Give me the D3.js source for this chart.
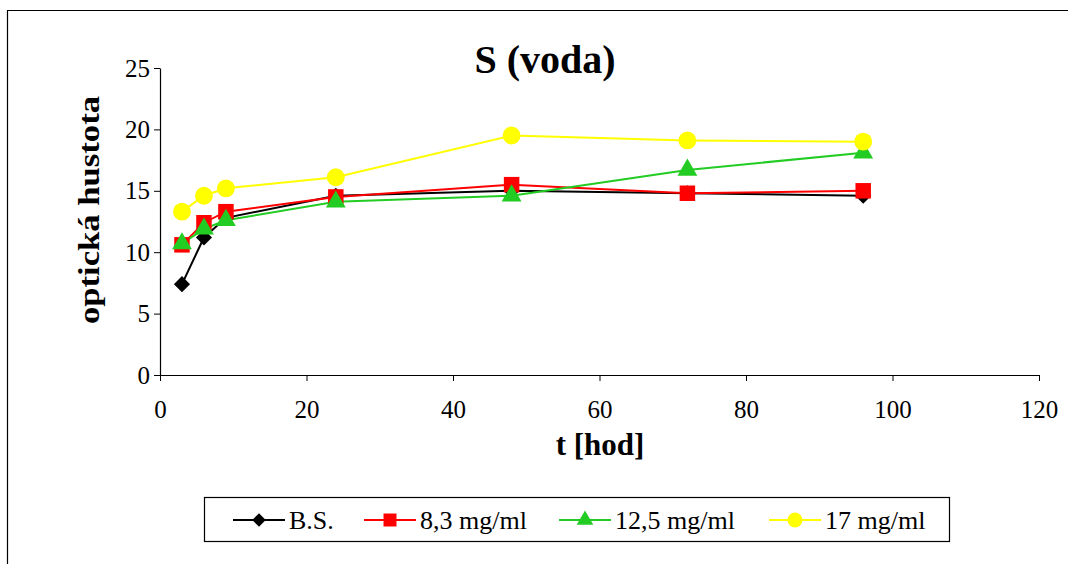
<!DOCTYPE html>
<html>
<head>
<meta charset="utf-8">
<script src="https://cdn.jsdelivr.net/npm/d3@7"></script>
<style>
  body { margin: 0; background: #fff; }
  svg text { font-family: "Liberation Serif", "Times New Roman", serif !important; fill: #000; }
</style>
</head>
<body>
<svg id="chart" width="1068" height="564"></svg>
<script>
const hours = [3, 6, 9, 24, 48, 72, 96]
const bs = [7.4, 11.2, 12.8, 14.6, 15.0, 14.8, 14.6]
const c83 = [10.6, 12.4, 13.3, 14.5, 15.5, 14.8, 15.0]
const c125 = [10.7, 11.9, 12.6, 14.1, 14.6, 16.7, 18.1]
const c17 = [13.3, 14.6, 15.2, 16.1, 19.5, 19.1, 19.0]
const seriesNames = ["B.S.", "8,3 mg/ml", "12,5 mg/ml", "17 mg/ml"]
const xTicks = [0, 20, 40, 60, 80, 100, 120]
const yTicks = [0, 5, 10, 15, 20, 25]

const series = [
    { name: seriesNames[0], values: bs, colour: "#000000", symbol: d3.symbolSquare, size: 130, rot: 45 },
    { name: seriesNames[1], values: c83, colour: "#ff0000", symbol: d3.symbolSquare, size: 240, rot: 0 },
    { name: seriesNames[2], values: c125, colour: "#22cc22", symbol: d3.symbolTriangle, size: 170, rot: 0 },
    { name: seriesNames[3], values: c17, colour: "#ffff00", symbol: d3.symbolCircle, size: 250, rot: 0 }
]

const svg = d3.select("#chart")

// outer frame (top + left only visible)
svg.append("path")
    .attr("d", "M7.5,564 L7.5,10.5 L1068,10.5")
    .attr("fill", "none").attr("stroke", "#000").attr("stroke-width", 1.2)

const x = d3.scaleLinear().domain([0, 120]).range([160, 1039])
const y = d3.scaleLinear().domain([0, 25]).range([375, 68])

// title
svg.append("text")
    .attr("x", 545).attr("y", 73)
    .attr("text-anchor", "middle")
    .attr("font-size", 40).attr("font-weight", "bold")
    .text("S (voda)")

// axes
const xAxis = svg.append("g")
    .attr("transform", `translate(0,${y(0)})`)
    .call(d3.axisBottom(x).tickValues(xTicks).tickSize(6).tickSizeOuter(0))
xAxis.select(".domain").attr("stroke-width", 1.2)
xAxis.selectAll("text").attr("font-size", 25).attr("y", 43).attr("dy", 0)

const yAxis = svg.append("g")
    .attr("transform", `translate(${x(0)},0)`)
    .call(d3.axisLeft(y).tickValues(yTicks).tickSize(6).tickSizeOuter(0))
yAxis.select(".domain").attr("stroke-width", 1.2)
yAxis.selectAll("text").attr("font-size", 25).attr("x", -10)

// axis titles
svg.append("text")
    .attr("x", 600).attr("y", 455)
    .attr("text-anchor", "middle")
    .attr("font-size", 31).attr("font-weight", "bold")
    .text("t [hod]")

svg.append("text")
    .attr("transform", "translate(99,210) rotate(-90)")
    .attr("text-anchor", "middle")
    .attr("font-size", 29).attr("font-weight", "bold")
    .attr("textLength", 228).attr("lengthAdjust", "spacingAndGlyphs")
    .text("optická hustota")

// lines and markers
const line = d3.line()
    .x((d, i) => x(hours[i]))
    .y(d => y(d))

series.forEach(s => {
    svg.append("path")
        .datum(s.values)
        .attr("d", line)
        .attr("fill", "none")
        .attr("stroke", s.colour)
        .attr("stroke-width", 2)
})

series.forEach(s => {
    svg.append("g").selectAll("path")
        .data(s.values).enter().append("path")
        .attr("transform", (d, i) => `translate(${x(hours[i])},${y(d)}) rotate(${s.rot})`)
        .attr("d", d3.symbol().type(s.symbol).size(s.size))
        .attr("fill", s.colour)
})

// legend
const legend = svg.append("g")
legend.append("rect")
    .attr("x", 204.5).attr("y", 497.5)
    .attr("width", 745).attr("height", 44)
    .attr("fill", "#fff").attr("stroke", "#000").attr("stroke-width", 1.2)

const legendX = [233, 364, 559, 769]
const legendY = 520
series.forEach((s, i) => {
    const g = legend.append("g").attr("transform", `translate(${legendX[i]},${legendY})`)
    g.append("line")
        .attr("x1", 0).attr("x2", 52)
        .attr("stroke", s.colour).attr("stroke-width", 2)
    g.append("path")
        .attr("transform", `translate(26,0) rotate(${s.rot})`)
        .attr("d", d3.symbol().type(s.symbol).size(s.size * 0.7))
        .attr("fill", s.colour)
    g.append("text")
        .attr("x", 56).attr("y", 9)
        .attr("font-size", 26)
        .text(s.name)
})
</script>
</body>
</html>
